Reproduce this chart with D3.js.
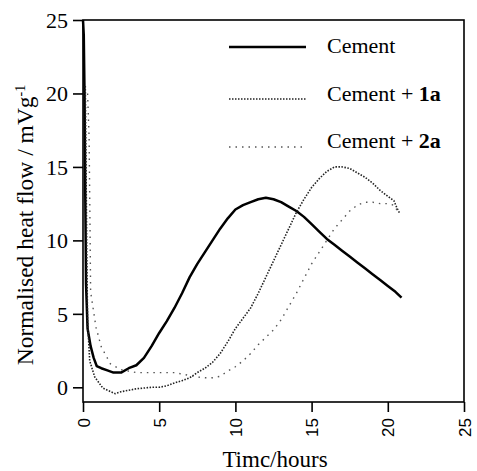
<!DOCTYPE html>
<html>
<head>
<meta charset="utf-8">
<script src="https://cdn.jsdelivr.net/npm/d3@7"></script>
<style>
  body { margin: 0; background: #fff; }
  svg text { font-family: "Liberation Serif", "Times New Roman", serif; fill: #000; }
</style>
</head>
<body>
<svg id="chart" width="477" height="471">
  <g id="lines"></g>
  <g id="x_axis"></g>
  <g id="y_axis"></g>
  <g id="legend"></g>
</svg>
<script>
// time (hours), normalised heat flow (mV/g)
let cement = [
  [0, 25], [0.05, 24], [0.1, 20], [0.15, 13], [0.2, 7], [0.3, 4], [0.5, 2.8],
  [0.7, 2.0], [0.9, 1.45], [1.2, 1.3], [1.6, 1.15], [2.0, 1.0], [2.5, 1.0],
  [3.0, 1.3], [3.5, 1.5], [4.0, 2.0], [4.5, 2.8], [5.0, 3.7], [5.5, 4.5],
  [6.0, 5.4], [6.5, 6.4], [7.0, 7.5], [7.5, 8.4], [8.0, 9.2], [8.5, 10.0],
  [9.0, 10.8], [9.5, 11.5], [10, 12.1], [10.5, 12.4], [11, 12.6], [11.5, 12.8],
  [12, 12.9], [12.5, 12.8], [13, 12.6], [13.5, 12.3], [14, 12.0], [14.5, 11.6],
  [15, 11.1], [15.5, 10.6], [16, 10.1], [16.5, 9.7], [17, 9.3], [17.5, 8.9],
  [18, 8.5], [18.5, 8.1], [19, 7.7], [19.5, 7.3], [20, 6.9], [20.5, 6.5], [20.9, 6.1]
]

let cement1a = [
  [0.15, 20.5], [0.2, 15], [0.25, 9], [0.3, 4.5], [0.44, 1.8], [0.77, 0.7],
  [1.3, -0.05], [2.1, -0.43], [2.5, -0.3], [3, -0.2], [3.5, -0.1], [4, -0.05],
  [4.5, 0], [5, 0], [5.5, 0.1], [6, 0.3], [6.5, 0.45], [7, 0.65], [7.5, 1.0],
  [8, 1.3], [8.5, 1.7], [9, 2.3], [9.5, 3.1], [10, 4.0], [10.5, 4.7], [11, 5.4],
  [11.5, 6.4], [12, 7.5], [12.5, 8.6], [13, 9.7], [13.5, 10.8], [14, 11.9],
  [14.5, 12.8], [15, 13.6], [15.5, 14.2], [16, 14.7], [16.5, 15.0], [17, 15.0],
  [17.5, 14.9], [18, 14.6], [18.5, 14.3], [19, 13.9], [19.5, 13.4], [20, 13.0],
  [20.4, 12.7], [20.6, 12.2], [20.8, 11.8]
]

let cement2a = [
  [0.3, 20], [0.4, 17], [0.45, 12], [0.5, 6.5], [0.85, 4.1], [1.2, 2.75],
  [1.8, 1.6], [2.5, 1.2], [3, 1.1], [3.5, 1.0], [4, 1.0], [4.5, 1.0], [5, 1.0],
  [5.5, 1.0], [6, 1.0], [6.5, 0.9], [7, 0.8], [7.5, 0.7], [8, 0.65], [8.5, 0.65],
  [9, 0.75], [9.5, 1.1], [10, 1.4], [10.5, 1.8], [11, 2.3], [11.5, 2.9], [12, 3.4],
  [12.5, 3.9], [13, 4.6], [13.5, 5.5], [14, 6.4], [14.5, 7.4], [15, 8.4],
  [15.5, 9.2], [16, 10.0], [16.5, 10.8], [17, 11.4], [17.5, 12.0], [18, 12.4],
  [18.5, 12.6], [19, 12.6], [19.5, 12.5], [20, 12.5], [20.4, 12.4], [20.7, 11.9]
]

let x_ticks = [0, 5, 10, 15, 20, 25]
let y_ticks = [0, 5, 10, 15, 20, 25]

let series = [
  {name: "Cement", extra: "", data: cement, width: 2.5, dash: null, color: "#000"},
  {name: "Cement + ", extra: "1a", data: cement1a, width: 1.6, dash: "1.5,1.5", color: "#222"},
  {name: "Cement + ", extra: "2a", data: cement2a, width: 1.4, dash: "1.5,5", color: "#555"}
]

let margin = {top: 20, right: 13, bottom: 69, left: 83}
let W = 477, H = 471

let scales = {
  x: d3.scaleLinear().domain([0, 25]).range([margin.left, W - margin.right]),
  y: d3.scaleLinear().domain([-1, 25]).range([H - margin.bottom, margin.top])
}

let svg = d3.select("#chart")

// lines
let line_generator = d3.line()
  .x(d => scales.x(d[0]))
  .y(d => scales.y(d[1]))

d3.select("#lines")
  .selectAll("path")
  .data(series).enter()
  .append("path")
  .attr("d", d => line_generator(d.data))
  .attr("fill", "none")
  .attr("stroke", d => d.color)
  .attr("stroke-width", d => d.width)
  .attr("stroke-dasharray", d => d.dash)
  .attr("stroke-linejoin", "round")

// frame
svg.append("rect")
  .attr("x", margin.left)
  .attr("y", margin.top)
  .attr("width", W - margin.right - margin.left)
  .attr("height", H - margin.bottom - margin.top)
  .attr("fill", "none")
  .attr("stroke", "#000")
  .attr("stroke-width", 1.6)

// axes
let x_axis = d3.axisBottom(scales.x).tickValues(x_ticks).tickSize(10)
let gx = d3.select("#x_axis")
  .attr("transform", `translate(0, ${H - margin.bottom})`)
  .call(x_axis)
gx.select(".domain").remove()
gx.selectAll(".tick line").attr("stroke-width", 1.6)
gx.selectAll(".tick text")
  .attr("transform", "rotate(-90)")
  .attr("text-anchor", "end")
  .attr("x", -16)
  .attr("y", 0)
  .attr("dy", "0.36em")
  .style("font-family", "'Liberation Sans', Arial, sans-serif")
  .style("font-size", "17px")

let y_axis = d3.axisLeft(scales.y).tickValues(y_ticks).tickSize(10).tickPadding(5)
let gy = d3.select("#y_axis")
  .attr("transform", `translate(${margin.left}, 0)`)
  .call(y_axis)
gy.select(".domain").remove()
gy.selectAll(".tick line").attr("stroke-width", 1.6)
gy.selectAll(".tick text").style("font-size", "22px").attr("dy", "0.34em")

// axis titles
svg.append("text")
  .attr("x", 275)
  .attr("y", 467)
  .attr("text-anchor", "middle")
  .style("font-size", "23px")
  .text("Timc/hours")

let ylab = svg.append("text")
  .attr("transform", "translate(33, 225) rotate(-90)")
  .attr("text-anchor", "middle")
  .style("font-size", "23.5px")
ylab.append("tspan").text("Normalised heat flow / mVg")
ylab.append("tspan").attr("dy", "-0.55em").style("font-size", "14px").text("-1")

// legend
let legend_y = [47, 99, 147]
let text_y = [53, 101, 148]
let lg = d3.select("#legend").selectAll("g")
  .data(series).enter()
  .append("g")

lg.append("line")
  .attr("x1", 229).attr("x2", 306)
  .attr("y1", (d, i) => legend_y[i]).attr("y2", (d, i) => legend_y[i])
  .attr("stroke", d => d.color)
  .attr("stroke-width", d => d.width)
  .attr("stroke-dasharray", d => d.dash)

let lt = lg.append("text")
  .attr("x", 327)
  .attr("y", (d, i) => text_y[i])
  .style("font-size", "22px")
lt.append("tspan").text(d => d.name)
lt.append("tspan").style("font-weight", "bold").text(d => d.extra)
</script>
</body>
</html>
